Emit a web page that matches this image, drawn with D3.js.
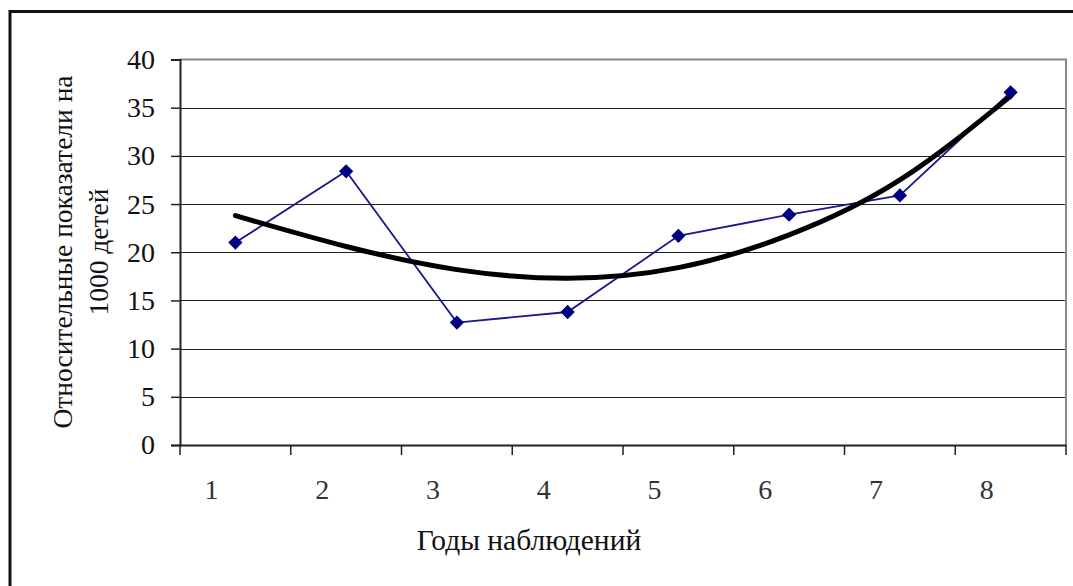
<!DOCTYPE html>
<html><head><meta charset="utf-8">
<script src="https://cdn.jsdelivr.net/npm/d3@7"></script>
<style>html,body{margin:0;padding:0;background:#fff;}svg{display:block;} svg text{font-family:"Liberation Serif",serif !important;}</style>
</head><body>
<svg id="chart" width="1073" height="586"></svg>
<script>
const categories = [1, 2, 3, 4, 5, 6, 7, 8];
const values = [21.0, 28.4, 12.7, 13.8, 21.7, 23.9, 25.9, 36.6];
const trend = [23.8, 20.6, 18.2, 17.3, 18.4, 21.8, 27.5, 36.2];
const yTicks = [0, 5, 10, 15, 20, 25, 30, 35, 40];
const yTitle = ["Относительные показатели на", "1000 детей"];
const xTitle = "Годы наблюдений";

const svg = d3.select("#chart");
const L = 180, R = 1066, T = 59.5, B = 445;

// outer frame
svg.append("rect").attr("x", 10).attr("y", 11.5).attr("width", 1080).attr("height", 600)
  .attr("fill", "none").attr("stroke", "#111").attr("stroke-width", 3);

const x = d3.scaleBand().domain(categories).range([L, R]).paddingInner(0).paddingOuter(0);
const y = d3.scaleLinear().domain([0, 40]).range([B, T]);

// gridlines
svg.append("g").selectAll("line").data(yTicks.filter(d => d > 0 && d < 40)).join("line")
  .attr("x1", L).attr("x2", R).attr("y1", d => Math.round(y(d)) + 0.5).attr("y2", d => Math.round(y(d)) + 0.5)
  .attr("stroke", "#222").attr("stroke-width", 1.2);

// plot area border (top, right) gray
svg.append("path").attr("d", `M${L},${T}H${R}V${B}`).attr("fill", "none")
  .attr("stroke", "#888").attr("stroke-width", 2);

// y axis
const yAxis = d3.axisLeft(y).tickValues(yTicks).tickSize(9).tickPadding(16).tickFormat(d3.format("d"));
const gy = svg.append("g").attr("transform", `translate(${L},0)`).call(yAxis);
gy.select(".domain").attr("stroke", "#222").attr("stroke-width", 2);
gy.selectAll(".tick line").attr("stroke", "#222").attr("stroke-width", 1.5);
gy.selectAll(".tick text").style("font-size", "28px").attr("fill", "#111");

// x axis
const xAxis = d3.axisBottom(x).tickSize(0).tickPadding(0).tickFormat(d => d);
const gx = svg.append("g").attr("transform", `translate(0,${B})`).call(xAxis);
gx.select(".domain").attr("stroke", "#222").attr("stroke-width", 2);
gx.selectAll(".tick text").style("font-size", "28px").attr("fill", "#333")
  .attr("dy", null).attr("y", 54).attr("x", -24);
// boundary tick marks
const bounds = categories.map(c => x(c)).concat([x(categories[categories.length - 1]) + x.bandwidth()]);
svg.append("g").selectAll("line").data(bounds).join("line")
  .attr("x1", d => d).attr("x2", d => d).attr("y1", B).attr("y2", B + 10)
  .attr("stroke", "#222").attr("stroke-width", 1.5);

const cx = d => x(d) + x.bandwidth() / 2;

// data line
svg.append("path").datum(values)
  .attr("d", d3.line().x((d, i) => cx(categories[i])).y(d => y(d)))
  .attr("fill", "none").attr("stroke", "#1a1a8c").attr("stroke-width", 1.8);

// trend line
svg.append("path").datum(trend)
  .attr("d", d3.line().x((d, i) => cx(categories[i])).y(d => y(d)).curve(d3.curveNatural))
  .attr("fill", "none").attr("stroke", "#000").attr("stroke-width", 5).attr("stroke-linecap", "round");

// markers
svg.append("g").selectAll("path").data(values).join("path")
  .attr("d", d3.symbol().type(d3.symbolDiamond2).size(130))
  .attr("transform", (d, i) => `translate(${cx(categories[i])},${y(d)})`)
  .attr("fill", "#000080");

// titles
svg.append("text").attr("x", 529).attr("y", 550).attr("text-anchor", "middle")
  .style("font-size", "29.5px").attr("fill", "#111").text(xTitle);
const yt = svg.append("text").attr("transform", "translate(0,252) rotate(-90)")
  .attr("text-anchor", "middle").style("font-size", "27.5px").attr("fill", "#111");
yt.append("tspan").attr("x", 0).attr("y", 72).text(yTitle[0]);
yt.append("tspan").attr("x", 0).attr("y", 108).text(yTitle[1]);
</script>
</body></html>
